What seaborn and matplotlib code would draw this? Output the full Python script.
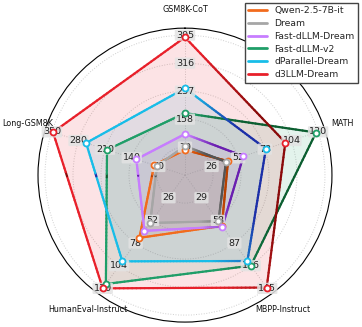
import numpy as np
import matplotlib
matplotlib.use('Agg')
import matplotlib.pyplot as plt
import seaborn as sns
from matplotlib.collections import LineCollection
from matplotlib.lines import Line2D
from matplotlib.colors import to_rgb

sns.set_style('white')

# axes (clockwise from top) and their ring tick values
axes_names = ['GSM8K-CoT', 'MATH', 'MBPP-Instruct', 'HumanEval-Instruct', 'Long-GSM8K']
axis_max = [395, 130, 145, 130, 350]

models = ['Qwen-2.5-7B-it', 'Dream', 'Fast-dLLM-Dream', 'Fast-dLLM-v2', 'dParallel-Dream', 'd3LLM-Dream']
qwen = [71, 42, 65, 72, 81]
dream = [82, 40, 59, 55, 74]
fast_dream = [116, 57, 66, 64, 128]
fast_v2 = [175, 128, 116, 125, 205]
dparallel = [245, 79, 110, 99, 260]
d3llm = [389, 98, 144, 130, 347]
values = [qwen, dream, fast_dream, fast_v2, dparallel, d3llm]

colors = ['#f26b1d', '#a6a6a6', '#c77dff', '#1f9e68', '#18bde8', '#e8202a']
dark_colors = ['#b84000', '#555555', '#6a1fb0', '#0b5e30', '#1b2fa8', '#8a0a0a']

n = len(axes_names)
angles = np.arange(n) * 2 * np.pi / n

fig = plt.figure(figsize=(3.62, 3.27), dpi=100)
ax = fig.add_axes([0.105, 0.015, 0.812, 0.899], projection='polar')
ax.set_theta_offset(np.pi / 2)
ax.set_theta_direction(-1)
ax.set_ylim(0, 1.05)
ax.set_xticks(angles)
ax.set_xticklabels([])
ax.set_yticks([0.2, 0.4, 0.6, 0.8, 1.0])
ax.set_yticklabels([])
ax.grid(True, color='#cfcfcf', linestyle=':', linewidth=0.7)
ax.spines['polar'].set_color('black')
ax.spines['polar'].set_linewidth(0.8)


def gradient_segments(th, r, base, dark, steps=40):
    # straight edges sampled in cartesian space, shaded darker towards the right side
    th = np.append(th, th[0])
    r = np.append(r, r[0])
    x = r * np.sin(th)
    y = r * np.cos(th)
    px, py = [], []
    for i in range(len(th) - 1):
        t = np.linspace(0, 1, steps)
        px.append(x[i] + (x[i + 1] - x[i]) * t)
        py.append(y[i] + (y[i + 1] - y[i]) * t)
    px = np.concatenate(px)
    py = np.concatenate(py)
    pts = np.column_stack([np.arctan2(px, py), np.hypot(px, py)])
    segs = np.stack([pts[:-1], pts[1:]], axis=1)
    mang = np.arctan2(py, px)
    mid = (mang[:-1] + mang[1:]) / 2
    d = np.clip((np.cos(mid - np.deg2rad(5)) - 0.2) / 0.6, 0, 1)
    b = np.array(to_rgb(base))
    k = np.array(to_rgb(dark))
    cols = b[None, :] * (1 - d[:, None]) + k[None, :] * d[:, None]
    return segs, cols


for vals, c, dc in zip(values, colors, dark_colors):
    r = np.array(vals) / np.array(axis_max)
    ax.fill(np.append(angles, angles[0]), np.append(r, r[0]), color=c, alpha=0.12, lw=0, zorder=1)
    segs, cols = gradient_segments(angles, r, c, dc)
    ax.add_collection(LineCollection(segs, colors=cols, linewidth=1.6, zorder=3, capstyle='round'))

# ring value labels on each axis
for a, m in zip(angles, axis_max):
    for k in range(1, 6):
        ax.text(a, k / 5, str(int(round(m * k / 5))), ha='center', va='center', fontsize=6.8,
                color='#222222', zorder=3.5,
                bbox=dict(boxstyle='round,pad=0.12', fc='#e3e3e3', ec='none', alpha=0.85))

for vals, c in zip(values, colors):
    r = np.array(vals) / np.array(axis_max)
    ax.plot(angles, r, ls='none', marker='o', ms=4.3, mfc='white', mec=c, mew=1.3, zorder=5)

for a, name in zip(angles, axes_names):
    ax.text(a, 1.185, name, ha='center', va='center', fontsize=5.8, color='#111111')

handles = [Line2D([0], [0], color=c, lw=2) for c in colors]
fig.legend(handles, models, loc='upper right', bbox_to_anchor=(0.99, 0.992), fontsize=6.7,
           frameon=True, fancybox=False, edgecolor='#444444', framealpha=1,
           handlelength=2.0, labelspacing=0.4, borderpad=0.4, borderaxespad=0.0)

plt.savefig('out.png', dpi=100)
plt.close()
